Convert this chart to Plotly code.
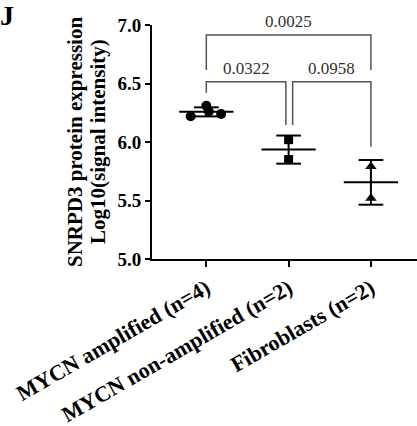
import numpy as np
import plotly.graph_objects as go

categories = ["MYCN amplified (n=4)", "MYCN non-amplified (n=2)", "Fibroblasts (n=2)"]
mycn_amp = [6.22, 6.31, 6.26, 6.24]
mycn_amp_x = [-0.19, 0.0, 0.03, 0.18]
mycn_nonamp = [6.02, 5.85]
fibroblasts = [5.79, 5.52]
groups = [mycn_amp, mycn_nonamp, fibroblasts]
group_x = [mycn_amp_x, [1, 1], [2, 2]]
symbols = ["circle", "square", "triangle-up"]
marker_sizes = [10, 9, 10]

# comparisons: (group a, group b, p-value)
comp_pairs = [(0, 1), (1, 2), (0, 2)]
comp_p = ["0.0322", "0.0958", "0.0025"]
y_ticks = [5.0, 5.5, 6.0, 6.5, 7.0]
y_title = ["SNRPD3 protein expression", "Log10(signal intensity)"]

FONT = "Liberation Serif"
fig = go.Figure()

for i, vals in enumerate(groups):
    m = float(np.mean(vals))
    sd = float(np.std(vals, ddof=1))
    fig.add_trace(go.Scatter(x=group_x[i], y=vals, mode="markers",
                             marker=dict(symbol=symbols[i], size=marker_sizes[i], color="black"),
                             showlegend=False, cliponaxis=False))
    # mean line
    fig.add_trace(go.Scatter(x=[i - 0.33, i + 0.33], y=[m, m], mode="lines",
                             line=dict(color="black", width=2), showlegend=False))
    # sd vertical + caps
    fig.add_trace(go.Scatter(x=[i, i, None, i - 0.15, i + 0.15, None, i - 0.15, i + 0.15],
                             y=[m - sd, m + sd, None, m + sd, m + sd, None, m - sd, m - sd],
                             mode="lines", line=dict(color="black", width=2), showlegend=False))

# brackets
bracket_specs = {
    (0, 1): dict(top=6.515, left=6.42, right=6.145, xl=0, xr=0.967),
    (1, 2): dict(top=6.515, left=6.145, right=5.96, xl=1.049, xr=2),
    (0, 2): dict(top=6.915, left=6.615, right=6.615, xl=0, xr=2),
}
for (a, b), p in zip(comp_pairs, comp_p):
    s = bracket_specs[(a, b)]
    fig.add_trace(go.Scatter(x=[s["xl"], s["xl"], s["xr"], s["xr"]],
                             y=[s["left"], s["top"], s["top"], s["right"]],
                             mode="lines", line=dict(color="#555555", width=1.5),
                             showlegend=False, cliponaxis=False))
    fig.add_annotation(x=(s["xl"] + s["xr"]) / 2, y=s["top"], yshift=2, text=p,
                       showarrow=False, yanchor="bottom",
                       font=dict(family=FONT, size=17, color="#333333"))

fig.add_annotation(x=0, y=1, xref="paper", yref="paper", text="<b>J</b>", showarrow=False,
                   xanchor="left", yanchor="top", xshift=-154, yshift=27,
                   font=dict(family=FONT, size=28, color="black"))

for k, line in enumerate(y_title):
    fig.add_annotation(x=0, y=0.5, xref="paper", yref="paper", text=f"<b>{line}</b>",
                       showarrow=False, textangle=-90, xanchor="center", yanchor="middle",
                       xshift=-77 + 23 * k,
                       font=dict(family=FONT, size=21, color="black"))

fig.update_layout(
    width=417, height=426,
    margin=dict(l=152, r=0, t=25, b=167),
    paper_bgcolor="white", plot_bgcolor="white",
    xaxis=dict(range=[-0.66, 2.56], tickvals=[0, 1, 2], ticktext=categories,
               tickangle=-30, showgrid=False, zeroline=False,
               showline=True, linecolor="black", linewidth=2,
               ticks="outside", ticklen=6, tickwidth=2, tickcolor="black",
               tickfont=dict(family=FONT, size=22, color="black", weight="bold")),
    yaxis=dict(range=[5.0, 7.0], tickvals=y_ticks, ticktext=[f"{v:.1f}" for v in y_ticks],
               showgrid=False, zeroline=False,
               showline=True, linecolor="black", linewidth=2,
               ticks="outside", ticklen=5, tickwidth=2, tickcolor="black",
               tickfont=dict(family=FONT, size=19, color="black", weight="bold")),
)

fig.write_html("out.html")
